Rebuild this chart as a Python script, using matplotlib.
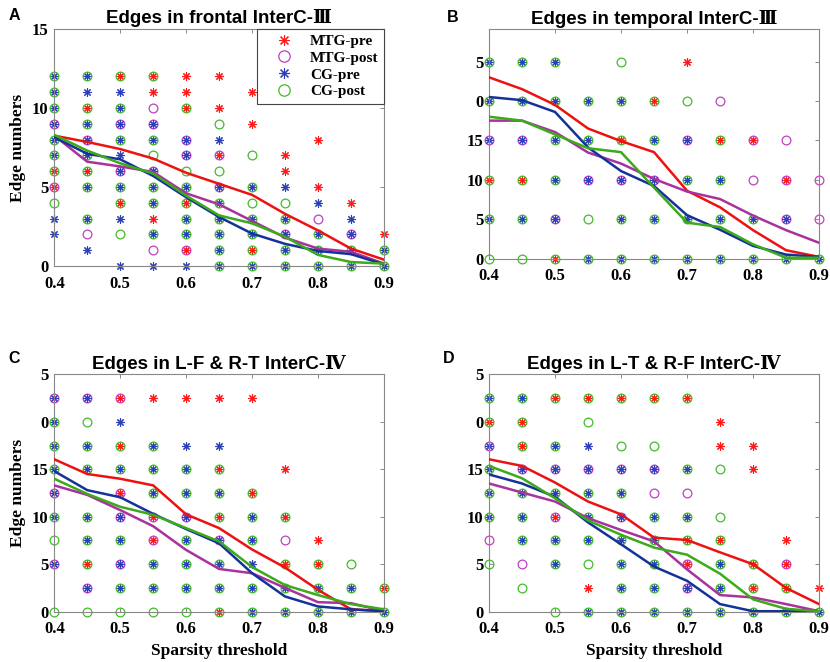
import matplotlib.pyplot as plt

X_VALUES = [0.4, 0.45, 0.5, 0.55, 0.6, 0.65, 0.7, 0.75, 0.8, 0.85, 0.9]
GROUP_NAMES = ["MTG-pre", "MTG-post", "CG-pre", "CG-post"]

# individual subject values: one row per y level, one token per x value
# R = MTG-pre, M = MTG-post, B = CG-pre, G = CG-post, . = none
A_LEVELS = [12, 11, 10, 9, 8, 7, 6, 5, 4, 3, 2, 1, 0]
A_ROWS = [
    "GB GB GR GR R R . . . . .",
    "GB B B R R . R . . . .",
    "GB GR GB M GR R . . . . .",
    "MB GB MB MB . G R . . . .",
    "GB MB GB GB MB B . . R . .",
    "GB GB B G MB MR G R . . .",
    "GR GR MB MB G G . R . . .",
    "MR GB GB GB GB MB GB B R . .",
    "G . GR GB GR GB G G B R .",
    "B GB B R GB GB GB GB M B .",
    "B M G GB GB GB GB MB GB MB R",
    ". B . M MR GB GR GB GB GB GB",
    ". . B B B GB GB GB GB GB GB",
]

B_LEVELS = [25, 20, 15, 10, 5, 0]
B_ROWS = [
    "GB GB GB . G . R . . . .",
    "GB GB GB GB GB GR G M . . .",
    "MB MB GB GB GR GB MB GR MR M .",
    "GR GR GB MB MB MB GB GB M MR M",
    "GB GB MB G GB GB GB GB GB MB M",
    "G G GR GB GB GB GB GB GB GB GB",
]

C_LEVELS = [22.5, 20, 17.5, 15, 12.5, 10, 7.5, 5, 2.5, 0]
C_ROWS = [
    "MB MB MR R R R R . . . .",
    "GB G B . . . . . . . .",
    "GB GB GR GB B B . . . . .",
    "GB GB GB GB GB GR . R . . .",
    "MB . MR GB GB GB GR . . . .",
    "GB GB MB MR MB GR GB GR . . .",
    "G GB GB MR GB MB GB M R . .",
    "MB GR MB GB GB GB B GR GR G .",
    ". MB GB GB GB GB GB GB GB GB GR",
    "G G G G G GR GB GB GB GB GB",
]

D_LEVELS = [22.5, 20, 17.5, 15, 12.5, 10, 7.5, 5, 2.5, 0]
D_ROWS = [
    "GB GB GR GR GR GR GR . . . .",
    "GR GR . G . . . R . . .",
    "MB GR GB B G G . R R . .",
    "GB MB MB MB MB MB GB G R . .",
    "GB GB GB GB GB M M . . . .",
    "GB GB MR GB MB GB GB G . . .",
    "M GB GB GB GB GB GR GR . R .",
    "G M GB G GB GB MR GB GR MR .",
    ". G . R GB GB MB GB GR GR R",
    ". . G GB GB GB GB GB GB GB GB",
]

# group means (lines)
A_MTG_PRE = [8.25, 7.85, 7.4, 6.8, 5.9, 5.2, 4.5, 3.3, 2.25, 1.1, 0.4]
A_MTG_POST = [8.25, 6.6, 6.3, 5.95, 4.6, 3.9, 2.85, 1.8, 1.1, 0.9, 0.15]
A_CG_PRE = [8.15, 7.1, 6.75, 5.7, 4.35, 3.1, 2.05, 1.4, 0.95, 0.75, 0.1]
A_CG_POST = [8.3, 7.3, 6.5, 5.85, 4.45, 3.2, 2.7, 1.85, 0.7, 0.25, 0.15]

B_MTG_PRE = [23.0, 21.5, 19.5, 16.5, 14.9, 13.5, 8.6, 6.5, 3.6, 1.05, 0.2]
B_MTG_POST = [17.5, 17.5, 16.05, 13.45, 12.05, 10.1, 8.5, 7.55, 5.45, 3.6, 2.0]
B_CG_PRE = [20.5, 20.1, 18.6, 14.1, 11.1, 9.2, 5.5, 3.65, 1.6, 0.5, 0.2]
B_CG_POST = [18.0, 17.5, 15.75, 14.0, 13.5, 9.0, 4.55, 4.0, 1.8, 0.1, 0.1]

C_MTG_PRE = [16.05, 14.5, 14.0, 13.3, 10.25, 8.8, 6.55, 4.65, 2.3, 0.25, 0.05]
C_MTG_POST = [13.3, 12.3, 10.7, 9.0, 6.5, 4.5, 4.05, 2.5, 1.0, 0.9, 0.05]
C_CG_PRE = [14.8, 12.8, 12.05, 10.3, 8.7, 7.2, 4.05, 1.6, 0.55, 0.25, 0.05]
C_CG_POST = [14.0, 12.4, 11.05, 10.2, 8.8, 7.4, 4.7, 2.8, 1.75, 0.8, 0.25]

D_MTG_PRE = [16.05, 15.35, 13.6, 11.6, 10.25, 7.8, 7.55, 6.25, 5.0, 2.5, 0.8]
D_MTG_POST = [13.5, 12.55, 11.6, 9.85, 8.6, 7.4, 4.45, 1.75, 1.5, 0.8, 0.05]
D_CG_PRE = [14.45, 13.5, 12.1, 9.4, 7.1, 4.75, 3.25, 0.8, 0.05, 0.05, 0.05]
D_CG_POST = [15.35, 14.05, 11.95, 9.6, 8.1, 6.75, 6.0, 4.0, 1.3, 0.3, 0.05]

X_TICKS = [0.4, 0.5, 0.6, 0.7, 0.8, 0.9]
A_YTICKS = [0, 5, 10, 15]
A_YTICKLABELS = ["0", "5", "10", "15"]
BCD_YTICKS = [0, 5, 10, 15, 20, 25]
BCD_YTICKLABELS = ["0", "5", "10", "15", "0", "5"]

SERIF = "Liberation Serif"

mark_styles = {
    "R": dict(marker=(8, 2, 0), color="#ff1a1a", ms=6, mew=0.8),
    "M": dict(marker="o", mfc="none", mec="#c040c0", ms=6.3, mew=0.9),
    "B": dict(marker=(8, 2, 0), color="#2a3fb8", ms=6, mew=0.8),
    "G": dict(marker="o", mfc="none", mec="#44bb2a", ms=6.3, mew=0.9),
}
line_colors = ["#ee1111", "#a8329e", "#14329a", "#3caa1a"]


def parse_rows(levels, rows):
    pts = {c: ([], []) for c in "RMBG"}
    for y, row in zip(levels, rows):
        for x, tok in zip(X_VALUES, row.split()):
            for c in tok:
                if c in pts:
                    pts[c][0].append(x)
                    pts[c][1].append(y)
    return pts


def draw_panel(ax, levels, rows, means, ylim, yticks, yticklabels, title):
    pts = parse_rows(levels, rows)
    handles = []
    for code, name in zip("RMBG", GROUP_NAMES):
        h, = ax.plot(pts[code][0], pts[code][1], linestyle="none",
                     clip_on=False, zorder=2, label=name, **mark_styles[code])
        handles.append(h)
    for vals, col in zip(means, line_colors):
        ax.plot(X_VALUES, vals, color=col, lw=1.8, zorder=3)
    ax.set_xlim(0.4, 0.9)
    ax.set_ylim(*ylim)
    ax.set_xticks(X_TICKS)
    ax.set_xticklabels([f"{t:.1f}" for t in X_TICKS], family=SERIF,
                       fontweight="bold", fontsize=12)
    ax.set_yticks(yticks)
    ax.set_yticklabels(yticklabels, family=SERIF, fontweight="bold",
                       fontsize=12)
    ax.tick_params(direction="in", length=3, width=0.6, color="#777777",
                   top=True, right=True)
    ax.tick_params(axis="x", pad=7)
    ax.tick_params(axis="y", pad=4)
    for s in ax.spines.values():
        s.set_color("#888888")
        s.set_linewidth(0.8)
    ax.set_title(title, family=["Liberation Sans", "DejaVu Serif"],
                 fontweight="bold", fontsize=13.5, pad=4)
    return handles


fig = plt.figure(figsize=(8.3, 6.62), dpi=100)

ax_a = fig.add_axes([0.0654, 0.5982, 0.3972, 0.358])
ax_b = fig.add_axes([0.5892, 0.6095, 0.3976, 0.3463])
ax_c = fig.add_axes([0.0654, 0.076, 0.3972, 0.3586])
ax_d = fig.add_axes([0.5892, 0.076, 0.3976, 0.3586])

hs = draw_panel(ax_a, A_LEVELS, A_ROWS,
                [A_MTG_PRE, A_MTG_POST, A_CG_PRE, A_CG_POST],
                (0, 15), A_YTICKS, A_YTICKLABELS,
                "Edges in frontal InterC-\u2162")
draw_panel(ax_b, B_LEVELS, B_ROWS,
           [B_MTG_PRE, B_MTG_POST, B_CG_PRE, B_CG_POST],
           (0, 29.1), BCD_YTICKS, BCD_YTICKLABELS,
           "Edges in temporal InterC-\u2162")
draw_panel(ax_c, C_LEVELS, C_ROWS,
           [C_MTG_PRE, C_MTG_POST, C_CG_PRE, C_CG_POST],
           (0, 25), BCD_YTICKS, BCD_YTICKLABELS,
           "Edges in L-F & R-T InterC-\u2163")
draw_panel(ax_d, D_LEVELS, D_ROWS,
           [D_MTG_PRE, D_MTG_POST, D_CG_PRE, D_CG_POST],
           (0, 25), BCD_YTICKS, BCD_YTICKLABELS,
           "Edges in L-T & R-F InterC-\u2163")

leg = ax_a.legend(handles=hs, loc="upper right", borderaxespad=0,
                  fancybox=False, edgecolor="#444444", framealpha=1,
                  prop=dict(family=SERIF, weight="bold", size=11),
                  handletextpad=0.25, markerscale=1.3, labelspacing=0.2,
                  borderpad=0.35, handlelength=2.9)
leg.get_frame().set_linewidth(0.8)
leg.set_zorder(5)

for ax in (ax_a, ax_c):
    ax.set_ylabel("Edge numbers", family=SERIF, fontweight="bold",
                  fontsize=12.5, labelpad=4)
for ax in (ax_c, ax_d):
    ax.set_xlabel("Sparsity threshold", family=SERIF, fontweight="bold",
                  fontsize=12.5, labelpad=4)

for lbl, (px, py) in zip("ABCD", [(14, 16), (453, 17), (14, 358), (449, 358)]):
    fig.text(px / 830, 1 - py / 662, lbl, family="Liberation Sans",
             fontweight="bold", fontsize=11.5, ha="center", va="center")

plt.savefig("out.png", dpi=100)
